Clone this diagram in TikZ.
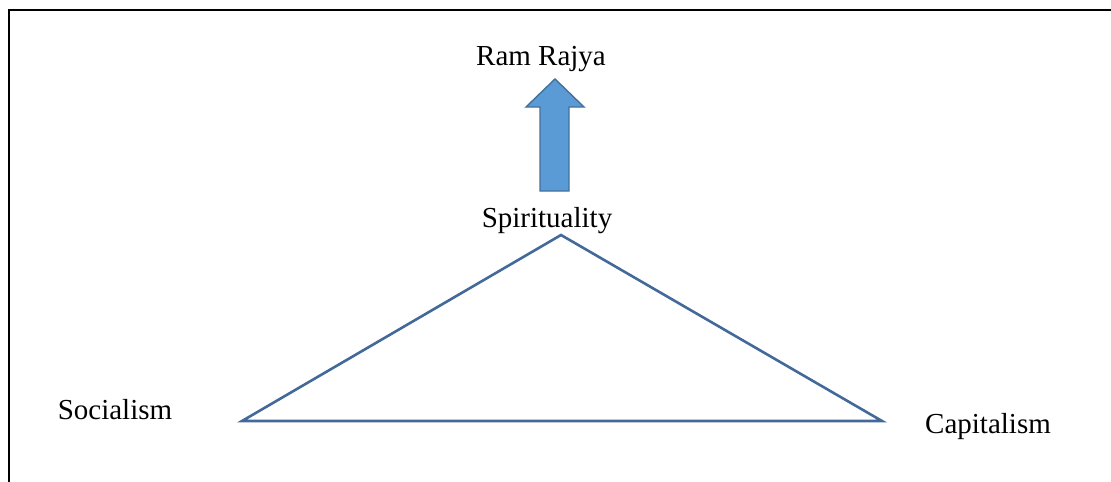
\documentclass[tikz,border=0pt]{standalone}
\usepackage{fontspec}
\setmainfont{Liberation Serif}
\usepackage{xcolor}
\definecolor{triblue}{HTML}{42699A}
\definecolor{arrowfill}{HTML}{5B9BD5}
\definecolor{arrowedge}{HTML}{41719C}
\tikzset{
  word/.style={anchor=base,inner sep=0pt,font=\fontsize{14.5}{17}\selectfont},
  triline/.style={draw=triblue,line width=1.3pt,line join=miter},
  uparrow/.style={fill=arrowfill,draw=arrowedge,line width=0.7pt},
  frame/.style={draw=black,line width=1pt}
}
\begin{document}
\begin{tikzpicture}[x=0.5pt,y=-0.5pt]
\useasboundingbox (0,0) rectangle (1111,481);
% marco
\draw[frame] (9,482) -- (9,10) -- (1112,10);
% palabras
\node[word] (ram) at (541,66) {Ram Rajya};
\node[word] (spirit) at (547,227) {Spirituality};
\node[word] (social) at (115,419) {Socialism};
\node[word] (capital) at (988,433) {Capitalism};
% triangulo
\coordinate (apex) at (561,235);
\coordinate (left) at (242,421);
\coordinate (right) at (882,421);
\draw[triline] (left) -- (apex) -- (right) -- cycle;
% flecha
\draw[uparrow] (540,191) -- (540,107) -- (526,107) -- (555,79)
  -- (584,107) -- (569,107) -- (569,191) -- cycle;
\end{tikzpicture}
\end{document}
